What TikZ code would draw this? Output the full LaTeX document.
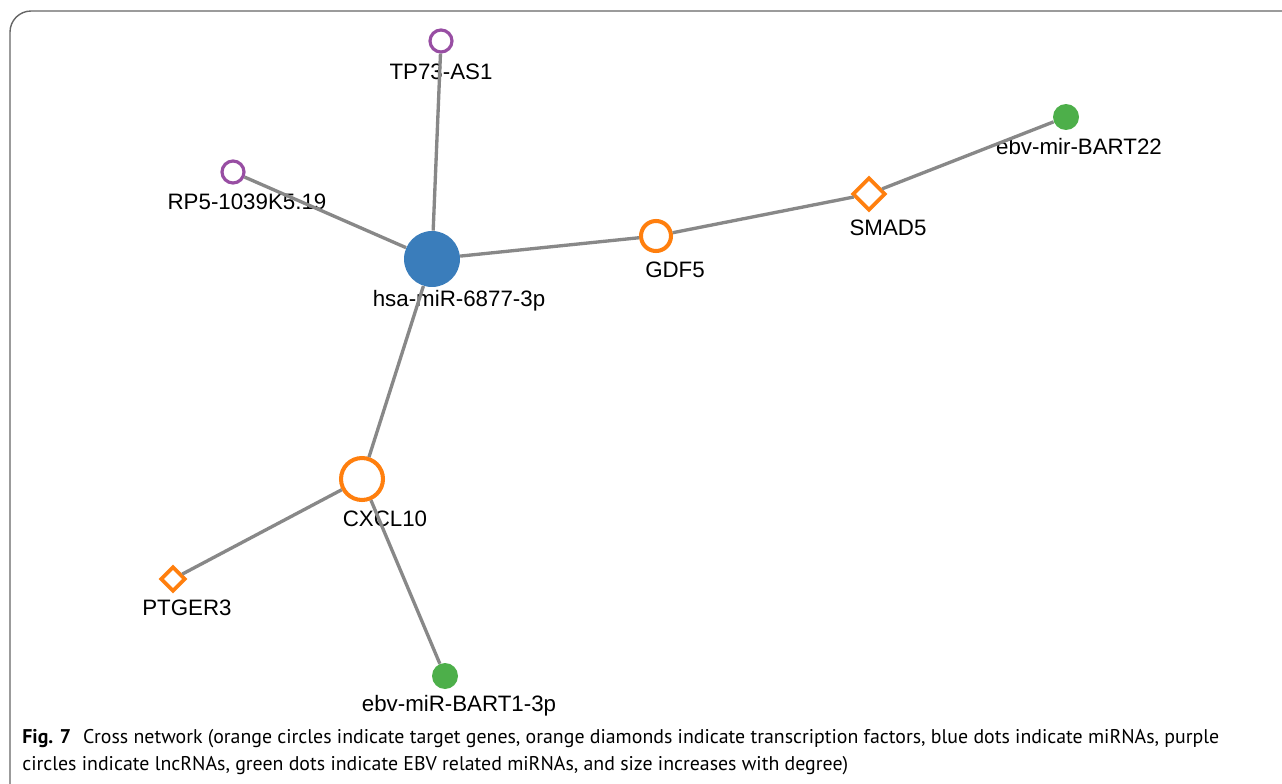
\documentclass[tikz,border=0pt]{standalone}
\usepackage{fontspec}
\setmainfont{Liberation Sans}
\newfontfamily\capfont{PT Sans}
\usepackage{tikz}
\usetikzlibrary{shapes.geometric}

\definecolor{mirblue}{HTML}{3A7DBB}
\definecolor{geneorange}{HTML}{FF7F0E}
\definecolor{lncpurple}{HTML}{984EA3}
\definecolor{ebvgreen}{HTML}{4DAF4A}
\definecolor{edgegray}{HTML}{888888}

\begin{document}
\begin{tikzpicture}[x=0.02cm, y=-0.02cm,
    gene/.style={circle, draw=geneorange, line width=2.3pt, fill=white, inner sep=0pt},
    tf/.style={diamond, draw=geneorange, line width=2.1pt, fill=white, inner sep=0pt},
    lnc/.style={circle, draw=lncpurple, line width=1.8pt, fill=white, inner sep=0pt, minimum size=0.44cm},
    ebv/.style={circle, fill=ebvgreen, inner sep=0pt, minimum size=0.52cm},
    mir/.style={circle, fill=mirblue, inner sep=0pt, minimum size=1.12cm},
    lab/.style={font=\fontsize{12.7}{15}\selectfont, inner sep=0pt},
    edge/.style={draw=edgegray, line width=1.9pt}]
    \useasboundingbox (0,0) rectangle (1282,784);
    \draw[gray!80!black, line width=0.8pt, rounded corners=12] (10,800) -- (10,11) -- (1300,11);

    % nodes
    \node[mir] (hsa) at (432,259) {};
    \node[lnc] (tp73) at (441,41) {};
    \node[lnc] (rp5) at (233,172) {};
    \node[gene, minimum size=0.6cm] (gdf5) at (656,236) {};
    \node[tf, minimum size=0.66cm] (smad5) at (869,194) {};
    \node[ebv] (bart22) at (1066,117) {};
    \node[gene, minimum size=0.84cm] (cxcl10) at (362,479) {};
    \node[tf, minimum size=0.5cm] (ptger3) at (173,579) {};
    \node[ebv] (bart1) at (445,676) {};

    % labels
    \node[lab] (hsaL) at (459,301) {hsa-miR-6877-3p};
    \node[lab] (tp73L) at (441,72) {TP73-AS1};
    \node[lab] (rp5L) at (247,202) {RP5-1039K5.19};
    \node[lab] (gdf5L) at (675,270) {GDF5};
    \node[lab] (smad5L) at (888,228) {SMAD5};
    \node[lab] (bart22L) at (1079,147) {ebv-mir-BART22};
    \node[lab] (cxcl10L) at (385,519) {CXCL10};
    \node[lab] (ptger3L) at (187,608) {PTGER3};
    \node[lab] (bart1L) at (459,706) {ebv-miR-BART1-3p};

    % edges
    \draw[edge] (hsa) -- (tp73);
    \draw[edge] (hsa) -- (rp5);
    \draw[edge] (hsa) -- (gdf5);
    \draw[edge] (gdf5) -- (smad5);
    \draw[edge] (smad5) -- (bart22);
    \draw[edge] (hsa) -- (cxcl10);
    \draw[edge] (cxcl10) -- (ptger3);
    \draw[edge] (cxcl10) -- (bart1);

    % caption
    \node[anchor=west, inner sep=0pt, font=\capfont\fontsize{11.3}{13}\selectfont] (cap1) at (22,739)
        {\textbf{Fig. 7}\hspace{0.6em}Cross network (orange circles indicate target genes, orange diamonds indicate transcription factors, blue dots indicate miRNAs, purple};
    \node[anchor=west, inner sep=0pt, font=\capfont\fontsize{11.3}{13}\selectfont] (cap2) at (22,766)
        {circles indicate lncRNAs, green dots indicate EBV related miRNAs, and size increases with degree)};
\end{tikzpicture}
\end{document}
